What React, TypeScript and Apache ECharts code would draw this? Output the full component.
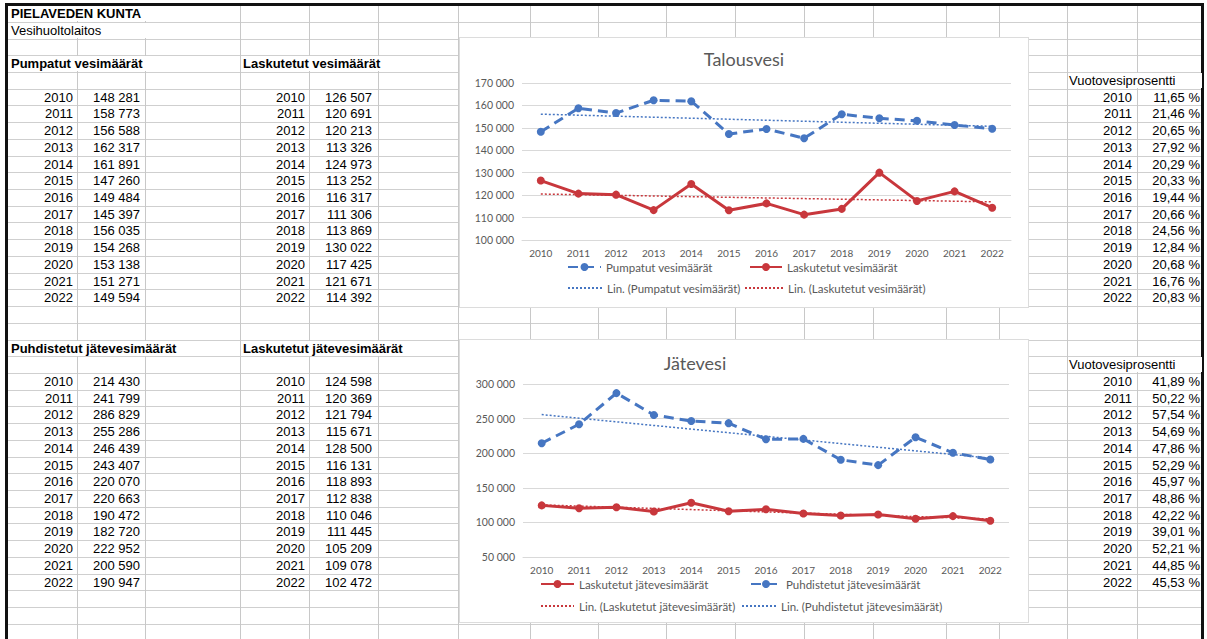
import React, { useEffect, useRef } from 'react';
import * as echarts from 'echarts';

// ---------- data ----------
const years = ['2010', '2011', '2012', '2013', '2014', '2015', '2016', '2017', '2018', '2019', '2020', '2021', '2022'];
const pumpatut = [148281, 158773, 156588, 162317, 161891, 147260, 149484, 145397, 156035, 154268, 153138, 151271, 149594];
const laskutetutVesi = [126507, 120691, 120213, 113326, 124973, 113252, 116317, 111306, 113869, 130022, 117425, 121671, 114392];
const vuotoTalous = [11.65, 21.46, 20.65, 27.92, 20.29, 20.33, 19.44, 20.66, 24.56, 12.84, 20.68, 16.76, 20.83];
const puhdistetut = [214430, 241799, 286829, 255286, 246439, 243407, 220070, 220663, 190472, 182720, 222952, 200590, 190947];
const laskutetutJate = [124598, 120369, 121794, 115671, 128500, 116131, 118893, 112838, 110046, 111445, 105209, 109078, 102472];
const vuotoJate = [41.89, 50.22, 57.54, 54.69, 47.86, 52.29, 45.97, 48.86, 42.22, 39.01, 52.21, 44.85, 45.53];
// linear trend lines (2010 start, 2022 end)
const trendPumpatut = [156100, 150700];
const trendLaskutetutVesi = [120500, 117000];
const trendPuhdistetut = [255800, 192900];
const trendLaskutetutJate = [125300, 105000];
// axis ticks
const talousAxis = [100000, 170000, 10000];
const jateAxis = [50000, 300000, 50000];

// ---------- styles ----------
const BLUE = '#4676C2';
const RED = '#C8373C';
const GRAY = '#595959';
const CHART_FONT = 'Lato, "Open Sans", sans-serif';
const SHEET_FONT = '"Liberation Sans", Arial, sans-serif';

const fmt = (v: number) => String(v).replace(/\B(?=(\d{3})+(?!\d))/g, ' ');
const pct = (v: number) => v.toFixed(2).replace('.', ',') + ' %';
const trendData = (t: number[]) => years.map((_, i) => (i === 0 ? t[0] : i === years.length - 1 ? t[1] : null));

function legendItem(name: string, left: number, top: number, w: number, noSymbol?: boolean) {
  const l: any = {
    data: [name], left, top, itemWidth: w, itemHeight: 10, padding: 0, selectedMode: false,
    textStyle: { color: GRAY, fontSize: 11.5, fontFamily: CHART_FONT },
  };
  if (noSymbol) l.itemStyle = { opacity: 0 };
  return l;
}

function baseOption(o: any) {
  return {
    animation: false,
    title: {
      text: o.title, left: o.titleLeft, top: o.titleTop, padding: 0, textAlign: o.titleAlign,
      textStyle: { color: GRAY, fontSize: 18, fontWeight: 'normal', fontFamily: CHART_FONT },
    },
    grid: o.grid,
    xAxis: {
      type: 'category', data: years, boundaryGap: true,
      axisTick: { show: false },
      axisLine: { lineStyle: { color: '#d9d9d9' } },
      axisLabel: { color: GRAY, fontSize: 10, fontFamily: CHART_FONT, margin: o.xMargin, interval: 0 },
    },
    yAxis: {
      type: 'value', min: o.axis[0], max: o.axis[1], interval: o.axis[2],
      axisLine: { show: false }, axisTick: { show: false },
      axisLabel: { color: GRAY, fontSize: 10.5, fontFamily: CHART_FONT, margin: 8, formatter: fmt },
      splitLine: { lineStyle: { color: '#d9d9d9' } },
    },
    legend: o.legend,
    series: o.series,
  };
}

const dataSeries = (name: string, data: number[], color: string, dashed: boolean) => ({
  name, type: 'line', data, symbol: 'circle', symbolSize: 8,
  itemStyle: { color },
  lineStyle: { color, width: 3, type: dashed ? [10, 6] : 'solid' },
  z: 3,
});
const trendSeries = (name: string, t: number[], color: string) => ({
  name, type: 'line', data: trendData(t), connectNulls: true, symbol: 'none', showSymbol: false,
  itemStyle: { color },
  lineStyle: { color, width: 1.5, type: [2, 2] },
  z: 2,
});

const option1 = baseOption({
  title: 'Talousvesi', titleLeft: 'center', titleTop: 12,
  grid: { left: 62, right: 17, top: 45, bottom: 67 },
  axis: talousAxis, xMargin: 8,
  legend: [
    legendItem('Pumpatut vesimäärät', 107, 223, 33),
    legendItem('Laskutetut vesimäärät', 289, 223, 32),
    legendItem('Lin. (Pumpatut vesimäärät)', 107, 244, 34, true),
    legendItem('Lin. (Laskutetut vesimäärät)', 284, 244, 38, true),
  ],
  series: [
    dataSeries('Pumpatut vesimäärät', pumpatut, BLUE, true),
    dataSeries('Laskutetut vesimäärät', laskutetutVesi, RED, false),
    trendSeries('Lin. (Pumpatut vesimäärät)', trendPumpatut, BLUE),
    trendSeries('Lin. (Laskutetut vesimäärät)', trendLaskutetutVesi, RED),
  ],
});

const option2 = baseOption({
  title: 'Jätevesi', titleLeft: 235, titleTop: 14, titleAlign: 'center',
  grid: { left: 63, right: 19, top: 44, bottom: 65 },
  axis: jateAxis, xMargin: 8,
  legend: [
    legendItem('Laskutetut jätevesimäärät', 80, 238, 33),
    legendItem('Puhdistetut jätevesimäärät', 290, 238, 30),
    legendItem('Lin. (Laskutetut jätevesimäärät)', 80, 260, 33, true),
    legendItem('Lin. (Puhdistetut jätevesimäärät)', 281, 260, 34, true),
  ],
  series: [
    dataSeries('Laskutetut jätevesimäärät', laskutetutJate, RED, false),
    dataSeries('Puhdistetut jätevesimäärät', puhdistetut, BLUE, true),
    trendSeries('Lin. (Laskutetut jätevesimäärät)', trendLaskutetutJate, RED),
    trendSeries('Lin. (Puhdistetut jätevesimäärät)', trendPuhdistetut, BLUE),
  ],
});

// ---------- components ----------
function ChartBox(props: { option: any; left: number; top: number; width: number; height: number }) {
  const ref = useRef<HTMLDivElement>(null);
  useEffect(() => {
    const c = echarts.init(ref.current!, null, { renderer: 'svg' });
    c.setOption(props.option);
    return () => c.dispose();
  }, []);
  return (
    <div style={{ position: 'absolute', left: props.left, top: props.top, width: props.width, height: props.height, background: '#fff', boxShadow: '0 0 0 1px #dcdcdc' }}>
      <div ref={ref} style={{ width: props.width, height: props.height }} />
    </div>
  );
}

const ROW_H = 16.72;
const rowTop = (k: number) => 5.14 + (k - 1) * ROW_H;
const W = 1207;
const H = 639;
const vCols = [77, 145, 240, 309, 378, 458, 530, 598, 666, 735, 804, 873, 946, 999, 1067, 1137];

function Cell(props: { row: number; left?: number; right?: number; bold?: boolean; cover?: number; children: any }) {
  const st: any = {
    position: 'absolute', top: Math.round(rowTop(props.row)) + 1, height: ROW_H - 1.5, lineHeight: (ROW_H - 1.5) + 'px',
    fontSize: 13, fontFamily: SHEET_FONT, color: '#000', whiteSpace: 'nowrap',
    fontWeight: props.bold ? 'bold' : 'normal',
  };
  if (props.left !== undefined) st.left = props.left;
  if (props.right !== undefined) st.right = W - props.right;
  if (props.cover) {
    st.background = '#fff';
    st.minWidth = props.cover;
  }
  return <div style={st}>{props.children}</div>;
}

function Table(props: { startRow: number; xYear: number; xVal: number; values: number[]; f: (v: number) => string }) {
  return (
    <>
      {years.map((y, i) => (
        <React.Fragment key={y}>
          <Cell row={props.startRow + i} right={props.xYear}>{y}</Cell>
          <Cell row={props.startRow + i} right={props.xVal}>{props.f(props.values[i])}</Cell>
        </React.Fragment>
      ))}
    </>
  );
}

export default function App() {
  const hLines = [];
  for (let k = 2; rowTop(k) < H; k++) hLines.push(rowTop(k));
  return (
    <div style={{ position: 'fixed', left: 0, top: 0, width: W, height: H, background: '#fff', overflow: 'hidden' }}>
      {hLines.map((y, i) => (
        <div key={'h' + i} style={{ position: 'absolute', left: 8, top: Math.round(y), width: 1193, height: 1, background: '#cfcfcf' }} />
      ))}
      {vCols.map((x, i) => (
        <div key={'v' + i} style={{ position: 'absolute', left: x, top: 6, width: 1, height: H, background: '#c8c8c8' }} />
      ))}
      {/* frame */}
      <div style={{ position: 'absolute', left: 5, top: 3, width: 3, height: H, background: '#111' }} />
      <div style={{ position: 'absolute', left: 5, top: 3, width: 1199, height: 3, background: '#111' }} />
      <div style={{ position: 'absolute', left: 1201, top: 3, width: 3, height: H, background: '#111' }} />

      <Cell row={1} left={11} bold cover={135}>PIELAVEDEN KUNTA</Cell>
      <Cell row={2} left={11} cover={135}>Vesihuoltolaitos</Cell>

      <Cell row={4} left={11} bold cover={135}>Pumpatut vesimäärät</Cell>
      <Cell row={4} left={243} bold cover={136}>Laskutetut vesimäärät</Cell>
      <Table startRow={6} xYear={73} xVal={140} values={pumpatut} f={fmt} />
      <Table startRow={6} xYear={305} xVal={372} values={laskutetutVesi} f={fmt} />
      <Cell row={5} left={1069} cover={133}>Vuotovesiprosentti</Cell>
      <Table startRow={6} xYear={1132} xVal={1200} values={vuotoTalous} f={pct} />

      <Cell row={21} left={11} bold cover={135}>Puhdistetut jätevesimäärät</Cell>
      <Cell row={21} left={243} bold cover={136}>Laskutetut jätevesimäärät</Cell>
      <Table startRow={23} xYear={73} xVal={140} values={puhdistetut} f={fmt} />
      <Table startRow={23} xYear={305} xVal={372} values={laskutetutJate} f={fmt} />
      <Cell row={22} left={1069} cover={133}>Vuotovesiprosentti</Cell>
      <Table startRow={23} xYear={1132} xVal={1200} values={vuotoJate} f={pct} />

      <ChartBox option={option1} left={460} top={38} width={568} height={269} />
      <ChartBox option={option2} left={460} top={340} width={568} height={282} />
    </div>
  );
}
